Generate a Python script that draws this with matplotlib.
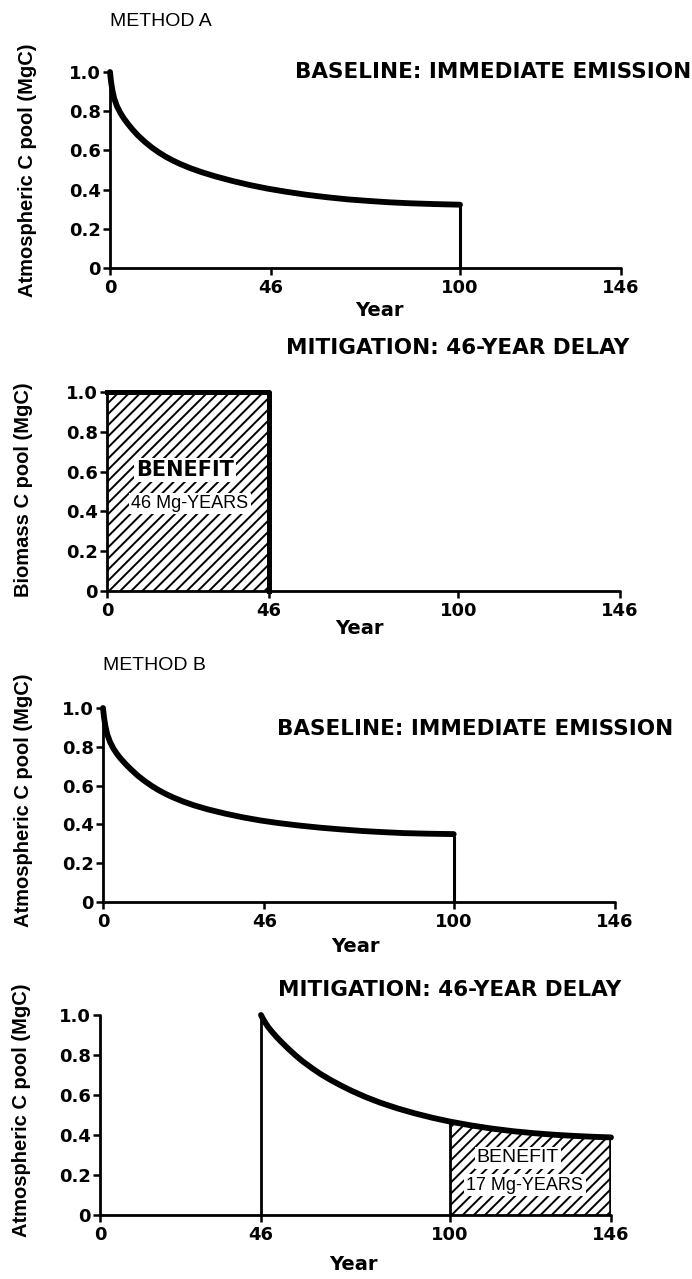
"""Carbon pool figure: Method A (biomass benefit) vs Method B (delayed emission)."""
import numpy as np
import matplotlib
matplotlib.use('Agg')
import matplotlib.pyplot as plt
import matplotlib as mpl

mpl.rcParams['font.family'] = 'DejaVu Sans'
mpl.rcParams['hatch.linewidth'] = 1.4
mpl.rcParams['axes.linewidth'] = 2.0

W, H = 692, 1279

# ---- data ----
x_ticks = [0, 46, 100, 146]
y_ticks = [0, 0.2, 0.4, 0.6, 0.8, 1.0]
y_ticklabels = ['0', '0.2', '0.4', '0.6', '0.8', '1.0']

# Method A baseline: atmospheric C after immediate emission
a_years = [0, 0.3, 0.7, 1.2, 2, 3, 4, 5, 6.5, 8, 10, 12, 14, 16, 18, 20, 23, 26, 30,
           35, 40, 45, 50, 56, 62, 68, 74, 80, 86, 93, 100]
a_pool = [1.0, 0.95, 0.905, 0.865, 0.825, 0.79, 0.762, 0.738, 0.705, 0.676, 0.643,
          0.614, 0.589, 0.567, 0.548, 0.531, 0.509, 0.49, 0.468, 0.444, 0.423, 0.405,
          0.39, 0.374, 0.361, 0.35, 0.342, 0.335, 0.33, 0.326, 0.323]

# Method A mitigation: carbon held in biomass for 46 years
bio_years = [0, 46]
bio_pool = [1.0, 1.0]

# Method B baseline
b_years = [0, 0.3, 0.7, 1.2, 2, 3, 4, 5, 6.5, 8, 10, 12, 14, 16, 18, 20, 23, 26, 30,
           35, 40, 45, 50, 56, 62, 68, 74, 80, 86, 93, 100]
b_pool = [1.0, 0.95, 0.905, 0.865, 0.825, 0.79, 0.763, 0.74, 0.71, 0.683, 0.65, 0.622,
          0.597, 0.575, 0.556, 0.539, 0.517, 0.498, 0.477, 0.455, 0.436, 0.42, 0.407,
          0.394, 0.383, 0.374, 0.366, 0.36, 0.355, 0.352, 0.35]

# Method B mitigation: same emission, delayed 46 years
mit_years = [46, 46.5, 47.2, 48, 49, 50.5, 52, 54, 56, 58, 60.5, 63, 66, 69, 72, 76,
             80, 85, 90, 95, 100, 106, 112, 118, 124, 130, 136, 141, 146]
mit_pool = [1.0, 0.983, 0.962, 0.941, 0.919, 0.889, 0.862, 0.828, 0.796, 0.767, 0.735,
            0.705, 0.674, 0.646, 0.620, 0.589, 0.562, 0.533, 0.508, 0.486, 0.467, 0.448,
            0.432, 0.419, 0.409, 0.401, 0.395, 0.391, 0.388]

horizon = 100

TITLE = dict(fontsize=15.5, fontweight='bold', family='DejaVu Sans', ha='center', va='center')
YLAB = dict(fontsize=14.5, fontweight='bold', family='Liberation Sans', rotation=90,
            ha='center', va='center')
BOX = dict(facecolor='white', edgecolor='none', pad=1.5)

fig = plt.figure(figsize=(W / 100, H / 100), dpi=100)


def ftext(px, py, s, **kw):
    fig.text(px / W, 1 - py / H, s, **kw)


def make_ax(x0, x146, y1, y0):
    ax = fig.add_axes([x0 / W, 1 - y0 / H, (x146 - x0) / W, (y0 - y1) / H])
    ax.set_xlim(0, 146)
    ax.set_ylim(0, 1.0)
    for s in ['top', 'right']:
        ax.spines[s].set_visible(False)
    for s in ['left', 'bottom']:
        ax.spines[s].set_capstyle('round')
    ax.set_xticks(x_ticks)
    ax.set_xticklabels([str(t) for t in x_ticks], fontsize=13, fontweight='bold')
    ax.set_yticks(y_ticks)
    ax.set_yticklabels(y_ticklabels, fontsize=13, fontweight='bold')
    ax.tick_params(length=5, width=1.8, pad=1.5)
    ax.tick_params(axis='x', pad=3)
    ax.patch.set_alpha(0)
    return ax


# ---- Method A, baseline ----
ax = make_ax(110, 621, 72, 268)
ax.plot(a_years, a_pool, color='black', lw=4.2, solid_capstyle='round',
        solid_joinstyle='round', clip_on=False)
ax.vlines(horizon, 0, a_pool[-1], color='black', lw=2.2)
ftext(110, 22, 'METHOD A', fontsize=14, family='Liberation Sans', ha='left', va='center')
ftext(493, 72, 'BASELINE: IMMEDIATE EMISSION', **TITLE)
ftext(379, 310, 'Year', fontsize=14, fontweight='bold', ha='center', va='center')
ftext(28, 170, 'Atmospheric C pool (MgC)', **YLAB)

# ---- Method A, mitigation (biomass) ----
ax = make_ax(107, 620, 392, 591)
ax.fill_between(bio_years, 0, bio_pool, facecolor='white', edgecolor='black',
                hatch='///', linewidth=0)
ax.plot([bio_years[0], bio_years[1], bio_years[1]], [bio_pool[0], bio_pool[1], 0],
        color='black', lw=3.6, clip_on=False)
ax.text(22.2, 0.61, 'BENEFIT', fontsize=15, fontweight='bold', ha='center', va='center', bbox=BOX)
ax.text(23.6, 0.44, '46 Mg-YEARS', fontsize=13, family='Liberation Sans', ha='center',
        va='center', bbox=BOX)
ftext(458, 348, 'MITIGATION: 46-YEAR DELAY', **TITLE)
ftext(359, 629, 'Year', fontsize=14, fontweight='bold', ha='center', va='center')
ftext(24, 490, 'Biomass C pool (MgC)', **YLAB)

# ---- Method B, baseline ----
ax = make_ax(103, 615, 708, 902)
ax.plot(b_years, b_pool, color='black', lw=4.2, solid_capstyle='round',
        solid_joinstyle='round', clip_on=False)
ax.vlines(horizon, 0, b_pool[-1], color='black', lw=2.2)
ftext(103, 666, 'METHOD B', fontsize=14, family='Liberation Sans', ha='left', va='center')
ftext(475, 729, 'BASELINE: IMMEDIATE EMISSION', **TITLE)
ftext(355, 946, 'Year', fontsize=14, fontweight='bold', ha='center', va='center')
ftext(24, 800, 'Atmospheric C pool (MgC)', **YLAB)

# ---- Method B, mitigation (delayed emission) ----
ax = make_ax(100, 611, 1015, 1215)
mx = np.array(mit_years)
my = np.array(mit_pool)
sel = mx >= horizon
ax.fill_between(mx[sel], 0, my[sel], facecolor='white', edgecolor='black',
                hatch='///', linewidth=0)
ax.vlines(mit_years[0], 0, mit_pool[0], color='black', lw=2.0)
ax.vlines(horizon, 0, my[mx == horizon][0], color='black', lw=2.0)
ax.vlines(mit_years[-1], 0, mit_pool[-1], color='black', lw=2.6)
ax.plot(mit_years, mit_pool, color='black', lw=4.2, solid_capstyle='round',
        solid_joinstyle='round', clip_on=False)
ax.text(119.4, 0.285, 'BENEFIT', fontsize=14, family='Liberation Sans', ha='center',
        va='center', bbox=BOX)
ax.text(121.4, 0.15, '17 Mg-YEARS', fontsize=13, family='Liberation Sans', ha='center',
        va='center', bbox=BOX)
ftext(450, 990, 'MITIGATION: 46-YEAR DELAY', **TITLE)
ftext(353, 1265, 'Year', fontsize=14, fontweight='bold', ha='center', va='center')
ftext(22, 1110, 'Atmospheric C pool (MgC)', **YLAB)

fig.savefig('out.png', dpi=100)
print('saved out.png')
